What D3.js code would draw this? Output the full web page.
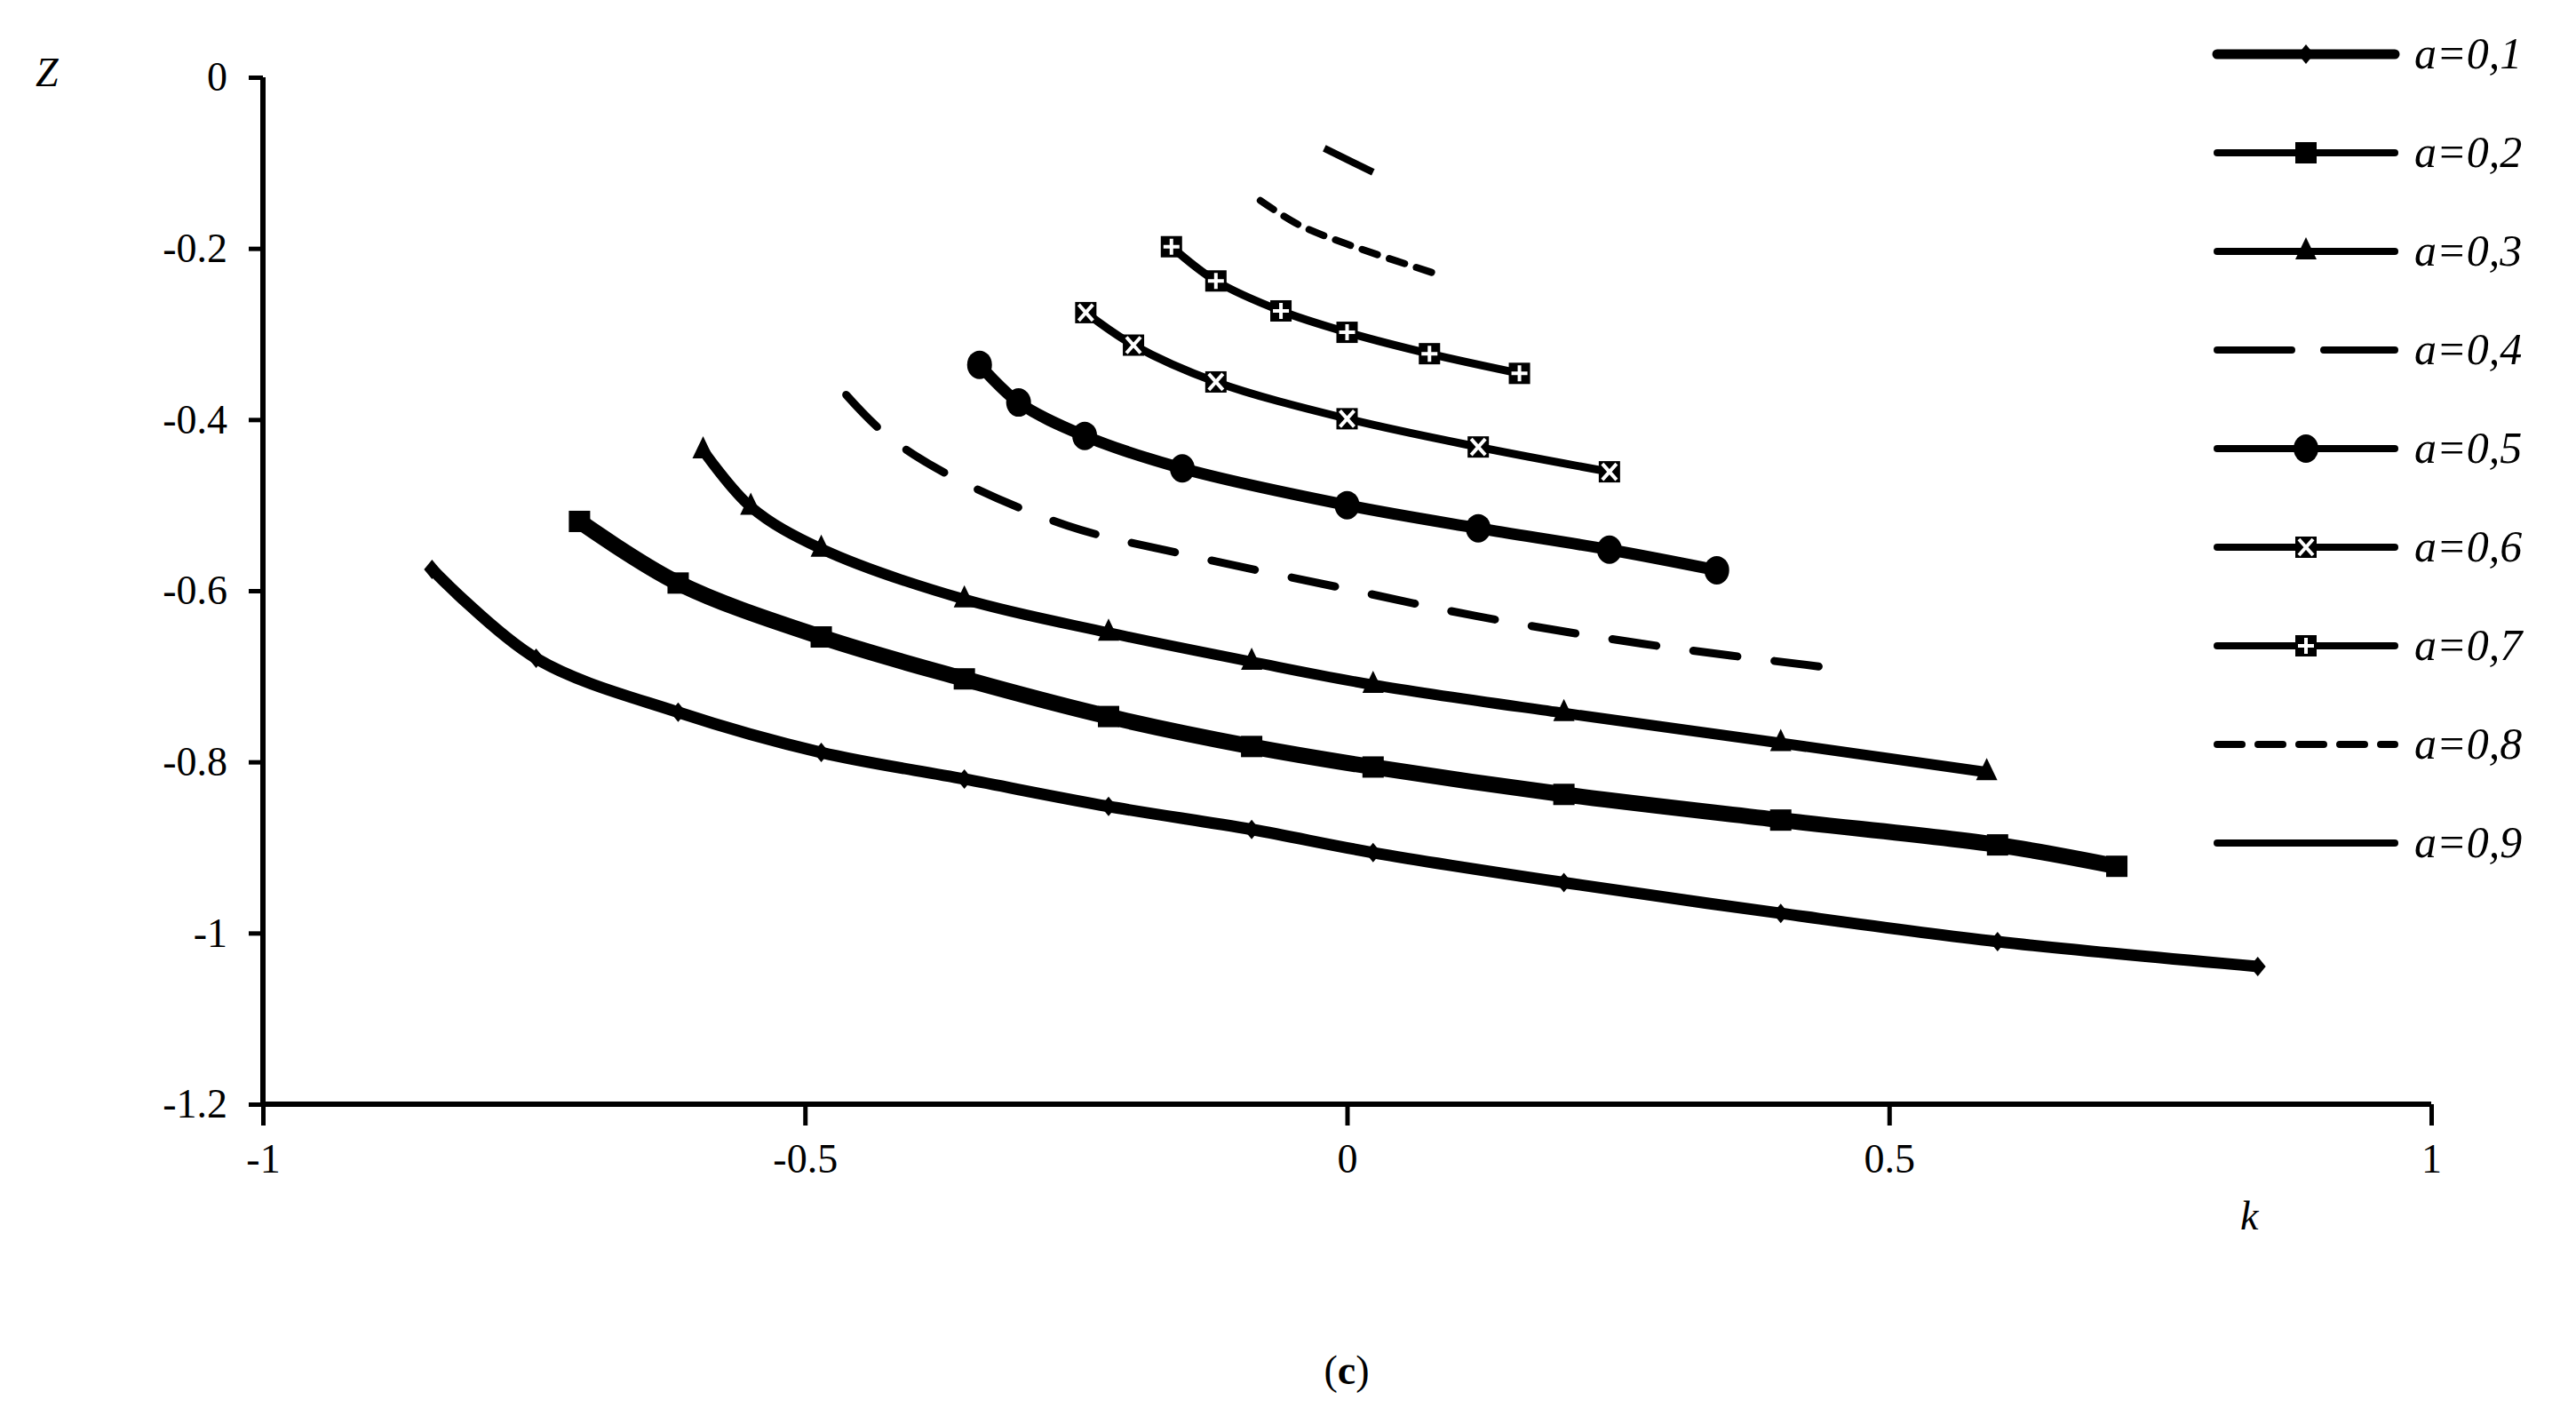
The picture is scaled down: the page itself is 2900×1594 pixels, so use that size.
<!DOCTYPE html>
<html><head><meta charset="utf-8">
<script src="https://cdn.jsdelivr.net/npm/d3@7"></script>
<style>body{margin:0;background:#fff}svg{display:block}svg text{font-family:"Liberation Serif",serif !important}</style>
</head><body>
<svg id="c" width="2900" height="1594"></svg>
<script>
const legendLabels=["a=0,1","a=0,2","a=0,3","a=0,4","a=0,5","a=0,6","a=0,7","a=0,8","a=0,9"];
const k01=[-0.844,-0.748,-0.617,-0.485,-0.353,-0.220,-0.088,0.024,0.2,0.4,0.6,0.84];
const z01=[-0.575,-0.679,-0.742,-0.789,-0.820,-0.852,-0.879,-0.906,-0.941,-0.977,-1.010,-1.039];
const k02=[-0.708,-0.617,-0.485,-0.353,-0.220,-0.088,0.024,0.2,0.4,0.6,0.71];
const z02=[-0.519,-0.591,-0.654,-0.703,-0.747,-0.782,-0.806,-0.838,-0.868,-0.897,-0.922];
const k03=[-0.594,-0.550,-0.485,-0.353,-0.220,-0.088,0.024,0.2,0.4,0.59];
const z03=[-0.436,-0.502,-0.551,-0.610,-0.649,-0.683,-0.710,-0.743,-0.778,-0.812];
const k04=[-0.462,-0.424,-0.364,-0.258,-0.152,0,0.121,0.273,0.465];
const z04=[-0.371,-0.419,-0.467,-0.524,-0.557,-0.598,-0.630,-0.662,-0.693];
const k05=[-0.339,-0.303,-0.242,-0.152,0,0.121,0.242,0.341];
const z05=[-0.336,-0.380,-0.419,-0.457,-0.500,-0.527,-0.552,-0.576];
const k06=[-0.241,-0.197,-0.121,0,0.121,0.242];
const z06=[-0.275,-0.313,-0.356,-0.399,-0.432,-0.461];
const k07=[-0.162,-0.121,-0.061,0,0.076,0.159];
const z07=[-0.198,-0.238,-0.273,-0.298,-0.323,-0.346];
const k08=[-0.080,-0.045,0,0.083];
const z08=[-0.144,-0.172,-0.195,-0.230];
const k09=[-0.021,0.024];
const z09=[-0.083,-0.111];
const xTicks=[-1,-0.5,0,0.5,1];
const yTicks=[0,-0.2,-0.4,-0.6,-0.8,-1,-1.2];

const K=[k01,k02,k03,k04,k05,k06,k07,k08,k09], Zs=[z01,z02,z03,z04,z05,z06,z07,z08,z09];
const styles=[
 {w:13,lw:11,dash:null,m:"diamond"},{w:18,lw:8,dash:null,m:"square"},{w:12,lw:8,dash:null,m:"triangle"},
 {w:9,lw:8,dash:"50,42",m:null},{w:13,lw:8,dash:null,m:"circle"},{w:9,lw:8,dash:null,m:"x"},
 {w:9,lw:8,dash:null,m:"plus"},{w:8,lw:8,dash:"18,14",m:null},{w:8,lw:8,dash:null,m:null}];
const F="Liberation Serif";
const svg=d3.select("#c");
const x=d3.scaleLinear().domain([-1,1]).range([296,2737]);
const y=d3.scaleLinear().domain([0,-1.2]).range([87,1243]);
const g=svg.append("g");
const ya=g.append("g").attr("transform","translate(296,0)").call(d3.axisLeft(y).tickValues(yTicks).tickFormat(d=>String(d)).tickSize(16).tickPadding(24));
const xa=g.append("g").attr("transform","translate(0,1243)").call(d3.axisBottom(x).tickValues(xTicks).tickFormat(d=>String(d)).tickSize(24).tickPadding(20));
[ya,xa].forEach(a=>{a.attr("font-family",F);a.select(".domain").attr("stroke","#000").attr("stroke-width",6);
 a.selectAll(".tick line").attr("stroke","#000").attr("stroke-width",5);
 a.selectAll("text").attr("font-size",46).attr("fill","#000").attr("font-family",F);});
xa.select(".domain").attr("d","M296,0H2737");
ya.select(".domain").attr("d","M0,87V1243");

function marker(sel,type,px,py){
 const s=sel.append("g").attr("transform",`translate(${px},${py})`).attr("fill","#000");
 if(type==="diamond") s.append("path").attr("d","M0,-11L9,0L0,11L-9,0Z");
 if(type==="square") s.append("rect").attr("x",-12).attr("y",-12).attr("width",24).attr("height",24);
 if(type==="triangle") s.append("path").attr("d","M0,-16L12,9L-12,9Z");
 if(type==="circle") s.append("ellipse").attr("rx",14).attr("ry",16);
 if(type==="x"){s.append("rect").attr("x",-12).attr("y",-12).attr("width",24).attr("height",24);
  s.append("path").attr("d","M-8,-9L8,9M8,-9L-8,9").attr("stroke","#fff").attr("stroke-width",4);}
 if(type==="plus"){s.append("rect").attr("x",-12).attr("y",-12).attr("width",24).attr("height",24);
  s.append("path").attr("d","M0,-9V9M-9,0H9").attr("stroke","#fff").attr("stroke-width",4);}
}
const line=d3.line().x(d=>x(d[0])).y(d=>y(d[1])).curve(d3.curveCatmullRom.alpha(0.5));
K.forEach((ks,i)=>{
 const pts=ks.map((k,j)=>[k,Zs[i][j]]);
 const st=styles[i];
 g.append("path").attr("d",line(pts)).attr("fill","none").attr("stroke","#000").attr("stroke-width",st.w)
  .attr("stroke-linecap",st.dash?"round":"butt").attr("stroke-dasharray",st.dash);
 if(st.m) pts.forEach(p=>marker(g,st.m,x(p[0]),y(p[1])));
});
legendLabels.forEach((l,i)=>{
 const ly=61+i*111, st=styles[i];
 g.append("line").attr("x1",2496).attr("x2",2696).attr("y1",ly).attr("y2",ly).attr("stroke","#000")
  .attr("stroke-width",st.lw).attr("stroke-linecap","round").attr("stroke-dasharray",st.dash?(i===3?"84,36":"28,18"):null);
 if(st.m) marker(g,st.m,2596,ly);
 g.append("text").attr("x",2718).attr("y",ly+16).attr("font-size",50).attr("font-family",F).attr("font-style","italic").text(l);
});
g.append("text").attr("x",40).attr("y",97).attr("font-size",46).attr("font-family",F).attr("font-style","italic").text("Z");
g.append("text").attr("x",2522).attr("y",1384).attr("font-size",46).attr("font-family",F).attr("font-style","italic").text("k");
g.append("text").attr("x",1516).attr("y",1558).attr("font-size",46).attr("font-family",F).attr("text-anchor","middle").html('(<tspan font-weight="bold">c</tspan>)');
</script></body></html>
